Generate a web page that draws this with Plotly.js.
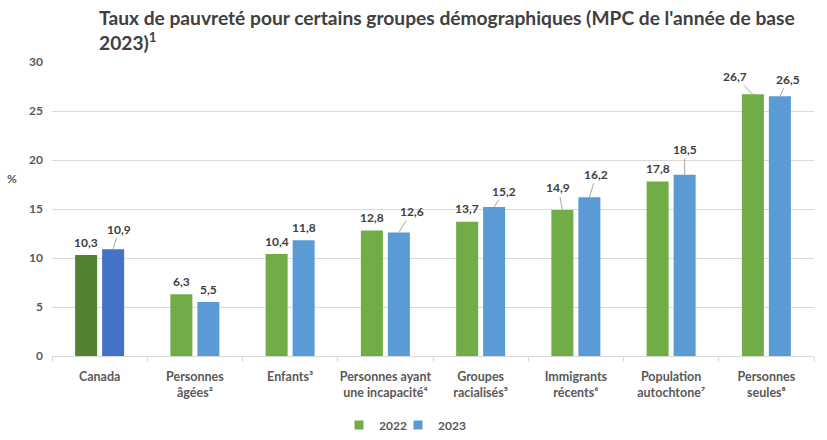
<!DOCTYPE html>
<html>
<head>
<meta charset="utf-8">
<script src="https://cdn.plot.ly/plotly-3.0.1.min.js"></script>
<style>html,body{margin:0;padding:0;background:#fff;}#chart{width:827px;height:440px;}</style>
</head>
<body>
<div id="chart"></div>
<script>
const categories = ['Canada', 'Personnes<br>âgées²', 'Enfants³', 'Personnes ayant<br>une incapacité⁴', 'Groupes<br>racialisés⁵', 'Immigrants<br>récents⁶', 'Population<br>autochtone⁷', 'Personnes<br>seules⁸'];
const values2022 = [10.3, 6.3, 10.4, 12.8, 13.7, 14.9, 17.8, 26.7];
const values2023 = [10.9, 5.5, 11.8, 12.6, 15.2, 16.2, 18.5, 26.5];
const seriesNames = ['2022', '2023'];
const yTicks = [0, 5, 10, 15, 20, 25, 30];
const titleText = "Taux de pauvreté pour certains groupes démographiques (MPC de l'année de base<br>2023)<sup>1</sup>";

// label offsets (pixels) relative to bar top, and leader-line flags
const lbl2022 = {dx: [0, 0, 0, 0, 0, -4, 0, -18], dy: [-13, -13, -13, -13, -13, -22, -13, -18], lead: [0, 0, 0, 0, 0, 1, 0, 1]};
const lbl2023 = {dx: [6, 0, 0, 13, 10, 7, 0, 8], dy: [-20, -13, -13, -21, -16, -23, -25, -17], lead: [1, 0, 0, 1, 1, 1, 1, 1]};

const fmt = v => v.toFixed(1).replace('.', ',');
const FONT = 'Lato, "Liberation Sans", Arial, sans-serif';
const GREEN = '#70AD47', BLUE = '#5B9BD5';
const green = values2022.map((v, i) => i === 0 ? '#548235' : GREEN);
const blue = values2023.map((v, i) => i === 0 ? '#4472C4' : BLUE);

const traces = [
  {type: 'bar', name: seriesNames[0], x: categories, y: values2022, marker: {color: green}, hoverinfo: 'none', showlegend: false},
  {type: 'bar', name: seriesNames[1], x: categories, y: values2023, marker: {color: blue}, hoverinfo: 'none', showlegend: false},
  {type: 'scatter', mode: 'markers', name: seriesNames[0], x: [null], y: [null], marker: {symbol: 'square', size: 9, color: GREEN}, legend: 'legend'},
  {type: 'scatter', mode: 'markers', name: seriesNames[1], x: [null], y: [null], marker: {symbol: 'square', size: 9, color: BLUE}, legend: 'legend2'}
];

const annotations = [];
function addLabels(vals, lbl, shift) {
  vals.forEach((v, i) => {
    annotations.push({
      x: i, y: v, xref: 'x', yref: 'y', text: fmt(v),
      showarrow: true, ax: lbl.dx[i], ay: lbl.dy[i], arrowhead: 0, arrowwidth: 1, standoff: 0, startstandoff: 0,
      arrowcolor: lbl.lead[i] ? '#A6A6A6' : 'rgba(0,0,0,0)',
      xshift: shift,
      font: {family: FONT, size: 12, color: '#404040', weight: 'bold'}
    });
  });
}
addLabels(values2022, lbl2022, -13.5);
addLabels(values2023, lbl2023, 13.5);
annotations.push({
  xref: 'paper', yref: 'paper', x: -0.052, y: 0.605, text: '%', showarrow: false,
  xanchor: 'center', yanchor: 'middle', font: {family: FONT, size: 12, color: '#595959', weight: 'bold'}
});
annotations.push({
  xref: 'paper', yref: 'paper', x: (97 - 52) / 762, y: 1 + (62 - 4) / 294, text: titleText, showarrow: false,
  xanchor: 'left', yanchor: 'top', align: 'left',
  font: {family: FONT, size: 19.2, color: '#404040', weight: 'bold'}
});

const legendBase = {orientation: 'h', xanchor: 'left', xref: 'container', y: 1 - 425 / 440, yref: 'container', yanchor: 'middle',
  font: {family: FONT, size: 12, color: '#595959', weight: 'bold'}, itemwidth: 30, bgcolor: 'rgba(0,0,0,0)'};

const layout = {
  width: 827, height: 440,
  margin: {l: 52, r: 13, t: 62, b: 84},
  paper_bgcolor: '#ffffff', plot_bgcolor: '#ffffff',
  barmode: 'group', bargap: 0.433, bargroupgap: 0.185,
  showlegend: true,
  legend: Object.assign({}, legendBase, {x: 339 / 827}),
  legend2: Object.assign({}, legendBase, {x: 398 / 827}),
  xaxis: {
    type: 'category', showline: true, linecolor: '#D9D9D9', linewidth: 1,
    ticks: 'outside', tickson: 'boundaries', ticklen: 5, tickcolor: '#D9D9D9', tickangle: 0,
    automargin: false, range: [-0.5, 7.5], ticklabelstandoff: 9,
    tickfont: {family: FONT, size: 12.5, color: '#595959', weight: 'bold'}, fixedrange: true
  },
  yaxis: {
    range: [0, 30], tickvals: yTicks, ticktext: yTicks.map(String), showgrid: true, gridcolor: '#D9D9D9',
    zeroline: false, showline: false, ticks: '', ticklabelstandoff: 8, automargin: false,
    tickfont: {family: FONT, size: 12, color: '#595959', weight: 'bold'}, fixedrange: true
  },
  annotations: annotations
};

Plotly.newPlot('chart', traces, layout, {displayModeBar: false, staticPlot: true});
</script>
</body>
</html>
